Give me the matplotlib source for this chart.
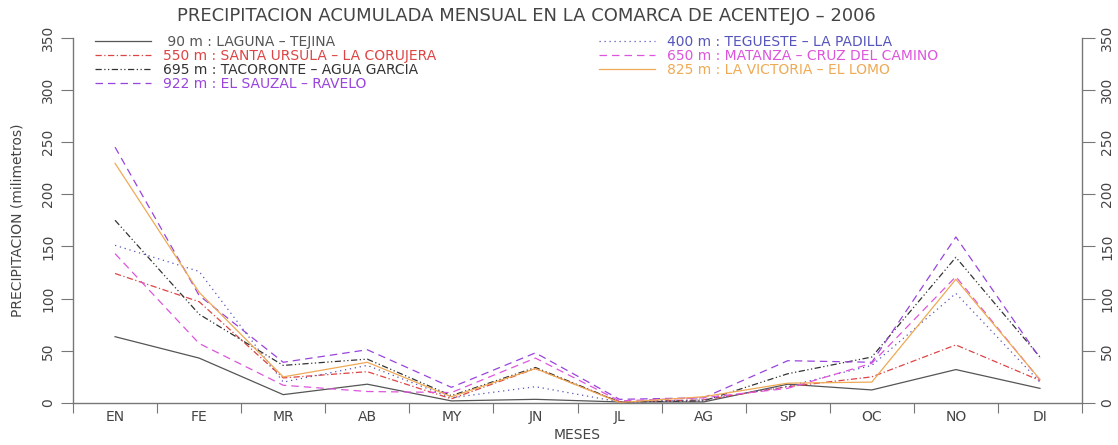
import matplotlib
matplotlib.use("Agg")
import matplotlib.pyplot as plt
import numpy as np

# months and monthly accumulated precipitation (mm)
months = ['EN', 'FE', 'MR', 'AB', 'MY', 'JN', 'JL', 'AG', 'SP', 'OC', 'NO', 'DI']
p90 = [63.5, 43, 8, 18, 2, 3.5, 1, 1, 18, 12.5, 32, 14]
p550 = [124, 97, 24, 30, 4, 33, 1, 3, 15.6, 25, 55.6, 21.5]
p695 = [175, 85, 36, 42, 7, 34, 1, 2, 28, 44, 139.5, 44]
p922 = [245, 103, 39, 51, 15, 48, 3.5, 5, 40.5, 39, 159, 43]
p400 = [151, 126, 20, 36, 5, 15.6, 1, 3, 16, 36, 105, 20]
p650 = [143, 57, 17, 11, 10, 43, 2, 5, 14, 38, 121, 22]
p825 = [229.5, 106, 25, 39, 6, 33, 0.5, 6, 19, 20, 118.5, 22.5]

labels = [' 90 m : LAGUNA \u2013 TEJINA',
          '550 m : SANTA URSULA \u2013 LA CORUJERA',
          '695 m : TACORONTE \u2013 AGUA GARCIA',
          '922 m : EL SAUZAL \u2013 RAVELO',
          '400 m : TEGUESTE \u2013 LA PADILLA',
          '650 m : MATANZA \u2013 CRUZ DEL CAMINO',
          '825 m : LA VICTORIA \u2013 EL LOMO']
series = [p90, p550, p695, p922, p400, p650, p825]
colors = ['#555555', '#dd4444', '#333333', '#9944dd', '#5555bb', '#dd55dd', '#eeaa55']
styles = ['-', (0, (5, 2, 1, 2)), (0, (5, 2, 1, 2, 1, 2)), (0, (6, 4)),
          (0, (1, 3)), (0, (6, 4)), '-']

plt.rcParams['font.family'] = ['DejaVu Sans']
grey = '#777777'
txt = '#444444'

fig = plt.figure(figsize=(11.18, 4.45), dpi=100)
ax = fig.add_axes([0.0653, 0.0944, 0.9025, 0.8213])

x = np.arange(len(months)) + 0.5
for vals, lab, c, ls in zip(series, labels, colors, styles):
    ax.plot(x, vals, color=c, linestyle=ls, linewidth=0.9, label=lab)

ax.set_xlim(0, 12)
ax.set_ylim(0, 350)
ax.set_xticks(np.arange(0, 13))
ax.set_xticklabels([])
ax.set_xticks(x, minor=True)
ax.set_xticklabels(months, minor=True, fontsize=10, color=txt)
ax.tick_params(axis='x', which='minor', length=0, pad=5)
ax.tick_params(axis='x', which='major', length=7, direction='out', color=grey)

yt = np.arange(0, 351, 50)
ax.set_yticks(yt)
ax.tick_params(axis='y', which='major', length=9, direction='out', color=grey,
               labelsize=10, labelcolor=txt, left=True, right=True,
               labelleft=True, labelright=True, pad=4)
ax.yaxis.set_tick_params(labelrotation=90)
for t in ax.yaxis.get_ticklabels(which='major'):
    t.set_va('center')

ax.spines['top'].set_visible(False)
for s in ['left', 'right', 'bottom']:
    ax.spines[s].set_color(grey)
    ax.spines[s].set_linewidth(1.0)

ax.set_xlabel('MESES', fontsize=10, color=txt, labelpad=3)
ax.set_ylabel('PRECIPITACION (milimetros)', fontsize=10, color=txt, labelpad=12)
fig.text(0.4705, 0.965, 'PRECIPITACION ACUMULADA MENSUAL EN LA COMARCA DE ACENTEJO \u2013 2006',
         ha='center', va='center', fontsize=13, color=txt)

leg = ax.legend(loc='upper left', bbox_to_anchor=(0.022, 1.008), ncol=2, frameon=False,
                fontsize=10, handlelength=4.0, handletextpad=0.9, labelspacing=0.0,
                columnspacing=11.7, borderpad=0, borderaxespad=0)
for t, c in zip(leg.get_texts(), colors):
    t.set_color(c)

fig.savefig('out.png', dpi=100)
